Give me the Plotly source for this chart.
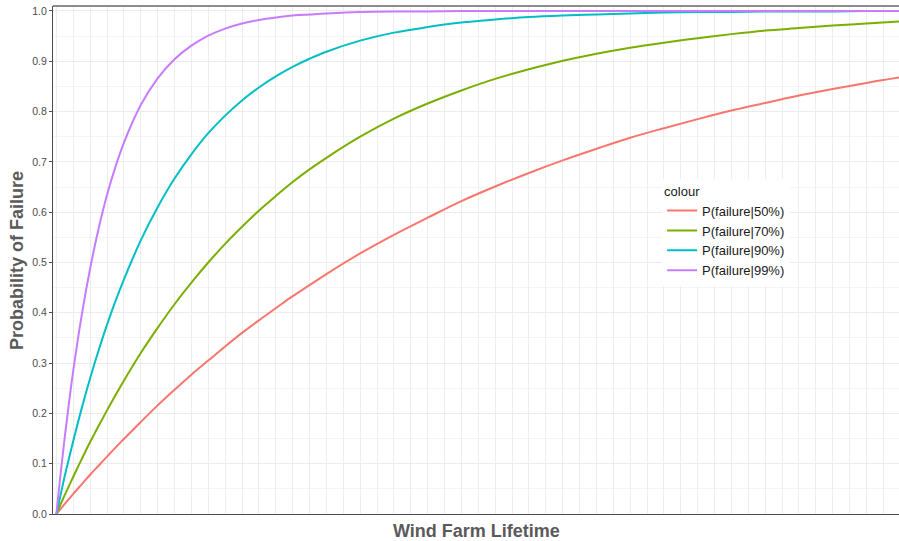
import plotly.graph_objects as go

# Wind farm lifetime (arbitrary units, one grid step per unit)
t_early = [0, 0.25, 0.5, 0.75, 1, 1.5, 2, 2.5, 3, 3.5, 4, 5, 6, 7, 8, 9, 10, 11, 12, 13,
           14, 15, 16, 18, 20, 22, 24, 26, 28, 30, 32, 34, 36, 38, 40, 42, 44, 46, 48, 50]

p50 = [0.000, 0.010, 0.020, 0.030, 0.040, 0.059, 0.078, 0.096, 0.114, 0.132, 0.149, 0.183,
       0.216, 0.247, 0.277, 0.305, 0.333, 0.360, 0.385, 0.409, 0.433, 0.455, 0.477, 0.518,
       0.555, 0.589, 0.622, 0.651, 0.678, 0.703, 0.726, 0.748, 0.767, 0.785, 0.802, 0.817,
       0.832, 0.845, 0.857, 0.868]
p70 = [0.000, 0.019, 0.038, 0.056, 0.074, 0.109, 0.143, 0.175, 0.206, 0.236, 0.265, 0.320,
       0.370, 0.417, 0.460, 0.500, 0.537, 0.571, 0.603, 0.632, 0.660, 0.685, 0.708, 0.750,
       0.786, 0.816, 0.842, 0.865, 0.884, 0.901, 0.915, 0.927, 0.937, 0.946, 0.954, 0.961,
       0.966, 0.971, 0.975, 0.979]
p90 = [0.000, 0.038, 0.076, 0.111, 0.145, 0.210, 0.270, 0.325, 0.376, 0.423, 0.466, 0.544,
       0.610, 0.667, 0.715, 0.757, 0.792, 0.822, 0.848, 0.870, 0.889, 0.905, 0.919, 0.941,
       0.957, 0.968, 0.977, 0.983, 0.988, 0.991, 0.993, 0.995, 0.997, 0.998, 0.998, 0.999,
       0.999, 0.999, 1.000, 1.000]
p99 = [0.000, 0.080, 0.154, 0.222, 0.285, 0.395, 0.488, 0.567, 0.634, 0.690, 0.738, 0.813,
       0.866, 0.904, 0.931, 0.951, 0.965, 0.975, 0.982, 0.987, 0.991, 0.993, 0.995, 0.998,
       0.999, 0.999, 1.000, 1.000, 1.000, 1.000, 1.000, 1.000, 1.000, 1.000, 1.000, 1.000,
       1.000, 1.000, 1.000, 1.000]

series_names = ["P(failure|50%)", "P(failure|70%)", "P(failure|90%)", "P(failure|99%)"]
series_colors = ["#F8766D", "#7CAE00", "#00BFC4", "#C77CFF"]
series_values = [p50, p70, p90, p99]

y_ticks = [0.0, 0.1, 0.2, 0.3, 0.4, 0.5, 0.6, 0.7, 0.8, 0.9, 1.0]
x_title = "Wind Farm Lifetime"
y_title = "Probability of Failure"
legend_title = "colour"

fig = go.Figure()
for name, col, vals in zip(series_names, series_colors, series_values):
    fig.add_trace(go.Scatter(x=t_early, y=vals, mode="lines", name=name,
                             line=dict(color=col, width=2), line_shape="spline"))

FONT = "Liberation Sans, Arial, sans-serif"

fig.update_layout(
    width=899, height=541,
    margin=dict(l=53, r=0, t=6, b=27),
    paper_bgcolor="white", plot_bgcolor="white",
    font=dict(family=FONT, color="#333333"),
    showlegend=True,
    legend=dict(
        title=dict(text=legend_title, font=dict(size=13, color="#1a1a1a", family=FONT)),
        font=dict(size=13, color="#1a1a1a", family=FONT),
        x=0.72, y=0.66, xanchor="left", yanchor="top",
        bgcolor="white", itemwidth=30, tracegroupgap=1,
    ),
    xaxis=dict(
        range=[-0.2, 49.93], dtick=1, tick0=0,
        showticklabels=False, ticks="",
        showgrid=True, gridcolor="#EDEDED", gridwidth=1,
        showline=True, linecolor="#4D4D4D", linewidth=1.3,
        zeroline=False,
    ),
    yaxis=dict(
        range=[0, 1.0099], tickvals=y_ticks, tickformat=".1f",
        ticks="outside", ticklen=3, tickcolor="#4D4D4D", tickwidth=1,
        tickfont=dict(size=10.5, color="#4D4D4D", family=FONT),
        showgrid=True, gridcolor="#EBEBEB", gridwidth=1,
        minor=dict(dtick=0.05, showgrid=True, gridcolor="#F4F4F4", gridwidth=1),
        showline=True, linecolor="#4D4D4D", linewidth=1.3,
        zeroline=False,
    ),
    shapes=[dict(type="line", xref="paper", yref="paper", x0=0, x1=1, y0=1, y1=1,
                 line=dict(color="#666666", width=1.3))],
    annotations=[
        dict(text=f"<b>{x_title}</b>", xref="paper", yref="paper", x=0.5, y=-0.0335,
             xanchor="center", yanchor="middle", showarrow=False,
             font=dict(size=18, color="#5A5A5A", family=FONT)),
        dict(text=f"<b>{y_title}</b>", xref="paper", yref="paper", x=-0.0426, y=0.5,
             xanchor="center", yanchor="middle", showarrow=False, textangle=-90,
             font=dict(size=18, color="#5A5A5A", family=FONT)),
    ],
)

fig.write_html(
    "out.html",
    config={"displayModeBar": False},
    post_script="document.body.style.margin='0';document.body.style.overflow='hidden';",
)
